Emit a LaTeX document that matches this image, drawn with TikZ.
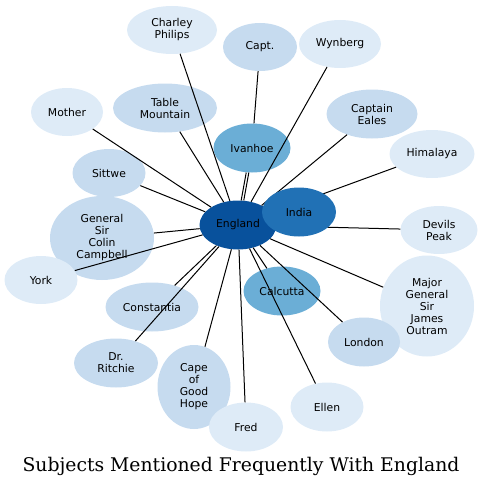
\documentclass[tikz,border=0pt]{standalone}
\usepackage{fontspec}
\setmainfont{DejaVu Sans}
\newfontfamily\titlefont{DejaVu Serif}
\usepackage{tikz}
\usetikzlibrary{shapes.geometric}
\definecolor{paleblue}{HTML}{DEEBF7}
\definecolor{lightblue}{HTML}{C6DBEF}
\definecolor{midblue}{HTML}{6BAED6}
\definecolor{strongblue}{HTML}{2171B5}
\definecolor{deepblue}{HTML}{08519C}

\begin{document}
\begin{tikzpicture}[x=1pt, y=-1pt,
    subj/.style={ellipse, inner sep=0pt, align=center,
      font=\fontsize{10.8}{12}\selectfont},
    rare/.style={subj, fill=paleblue},
    some/.style={subj, fill=lightblue},
    often/.style={subj, fill=midblue},
    link/.style={line width=1pt}]
    \useasboundingbox (0,0) rectangle (483,487);
    % Draw the subjects
    \node[subj, fill=deepblue, minimum width=77, minimum height=49] (england) at (238,225) {England};
    \node[rare, minimum width=90, minimum height=48] (charley) at (172,30) {Charley\\Philips};
    \node[some, minimum width=74, minimum height=48] (capt) at (260,47) {Capt.};
    \node[rare, minimum width=82, minimum height=48] (wynberg) at (340,44) {Wynberg};
    \node[rare, minimum width=72, minimum height=48] (mother) at (67,112) {Mother};
    \node[some, minimum width=104, minimum height=49] (table) at (165,108) {Table\\Mountain};
    \node[some, minimum width=91, minimum height=49] (eales) at (372,114) {Captain\\Eales};
    \node[rare, minimum width=85, minimum height=48] (himalaya) at (432,154) {Himalaya};
    \node[often, minimum width=77, minimum height=49] (ivanhoe) at (252,148) {Ivanhoe};
    \node[some, minimum width=73, minimum height=48] (sittwe) at (109,173) {Sittwe};
    \node[some, minimum width=104, minimum height=84] (campbell) at (102,238) {General\\Sir\\Colin\\Campbell};
    \node[rare, minimum width=77, minimum height=48] (devils) at (439,230) {Devils\\Peak};
    \node[rare, minimum width=73, minimum height=48] (york) at (41,280) {York};
    \node[some, minimum width=93, minimum height=49] (constantia) at (152,307) {Constantia};
    \node[often, minimum width=77, minimum height=49] (calcutta) at (282,291) {Calcutta};
    \node[rare, minimum width=94, minimum height=101] (outram) at (427,306) {Major\\General\\Sir\\James\\Outram};
    \node[some, minimum width=72, minimum height=49] (london) at (364,342) {London};
    \node[some, minimum width=84, minimum height=49] (ritchie) at (116,363) {Dr.\\Ritchie};
    \node[some, minimum width=73, minimum height=84] (cape) at (194,387) {Cape\\of\\Good\\Hope};
    \node[rare, minimum width=73, minimum height=49] (ellen) at (327,407) {Ellen};
    \node[rare, minimum width=74, minimum height=49] (fred) at (246,427) {Fred};
    % Draw the links
    \draw[link] (capt) -- (ivanhoe);
    \draw[link, transform canvas={xshift=-1.3pt}] (ivanhoe) -- (england);
    \draw[link, transform canvas={xshift=1.3pt}] (ivanhoe) -- (england);
    \foreach \other in {charley, wynberg, mother, table, eales, himalaya, sittwe,
        campbell, devils, york, constantia, ritchie, cape, fred, ellen, calcutta,
        london, outram}
      \draw[link] (england) -- (\other);
    % India lies over England and the links
    \node[subj, fill=strongblue, minimum width=74, minimum height=49] (india) at (299,212) {India};
    % Title
    \node[font=\titlefont\fontsize{18.8}{22}\selectfont] (title) at (241,466)
      {Subjects Mentioned Frequently With England};
\end{tikzpicture}
\end{document}
